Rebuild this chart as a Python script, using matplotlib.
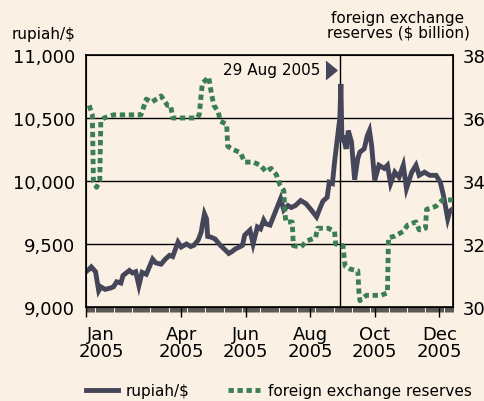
import numpy as np
import pandas as pd
import matplotlib
matplotlib.use('Agg')
import matplotlib.pyplot as plt
import matplotlib.dates as mdates
from matplotlib.lines import Line2D
from matplotlib.transforms import offset_copy

# rupiah per US$
rupiah_dates = ['2005-01-01', '2005-01-04', '2005-01-06', '2005-01-10', '2005-01-13', '2005-01-15',
                '2005-01-19', '2005-01-24', '2005-01-27', '2005-01-30', '2005-02-03', '2005-02-05',
                '2005-02-08', '2005-02-11', '2005-02-14', '2005-02-17', '2005-02-20', '2005-02-23',
                '2005-02-27', '2005-03-01', '2005-03-05', '2005-03-08', '2005-03-13', '2005-03-17',
                '2005-03-21', '2005-03-24', '2005-03-29', '2005-04-01', '2005-04-06', '2005-04-10',
                '2005-04-13', '2005-04-17', '2005-04-20', '2005-04-21', '2005-04-23', '2005-04-25',
                '2005-04-26', '2005-04-29', '2005-05-03', '2005-05-08', '2005-05-13', '2005-05-16',
                '2005-05-19', '2005-05-22', '2005-05-27', '2005-05-29', '2005-05-31', '2005-06-05',
                '2005-06-08', '2005-06-12', '2005-06-15', '2005-06-18', '2005-06-20', '2005-06-24',
                '2005-06-29', '2005-07-04', '2005-07-07', '2005-07-11', '2005-07-14', '2005-07-18',
                '2005-07-23', '2005-07-28', '2005-08-02', '2005-08-07', '2005-08-10', '2005-08-13',
                '2005-08-17', '2005-08-19', '2005-08-22', '2005-08-24', '2005-08-27', '2005-08-29',
                '2005-08-30', '2005-08-31', '2005-09-01', '2005-09-04', '2005-09-06', '2005-09-09',
                '2005-09-12', '2005-09-15', '2005-09-17', '2005-09-21', '2005-09-24', '2005-09-26',
                '2005-09-28', '2005-10-01', '2005-10-05', '2005-10-10', '2005-10-13', '2005-10-16',
                '2005-10-20', '2005-10-24', '2005-10-28', '2005-10-31', '2005-11-05', '2005-11-09',
                '2005-11-12', '2005-11-17', '2005-11-22', '2005-11-28', '2005-12-02', '2005-12-05',
                '2005-12-09', '2005-12-11', '2005-12-14']
rupiah = [9280, 9300, 9318, 9280, 9130, 9160,
          9140, 9150, 9160, 9200, 9190, 9250,
          9270, 9290, 9270, 9280, 9170, 9275,
          9260, 9300, 9380, 9350, 9340, 9380,
          9410, 9400, 9515, 9476, 9500, 9480,
          9490, 9530, 9595, 9650, 9740, 9700,
          9560, 9555, 9540, 9490, 9450, 9425,
          9440, 9460, 9480, 9490, 9570, 9610,
          9500, 9635, 9620, 9690, 9660, 9650,
          9755, 9860, 9770, 9805, 9790, 9805,
          9845, 9820, 9770, 9715, 9780, 9840,
          9870, 9990, 9980, 10150, 10360, 10500,
          10770, 10310, 10360, 10255, 10400, 10310,
          10010, 10180, 10230, 10255, 10360, 10400,
          10285, 10005, 10125, 10100, 10125, 9980,
          10070, 10030, 10125, 9940, 10070, 10125,
          10045, 10070, 10045, 10045, 9990, 9885,
          9700, 9760, 9780]

# foreign exchange reserves, $ billion
reserve_dates = ['2005-01-04', '2005-01-07', '2005-01-08', '2005-01-11', '2005-01-14', '2005-01-15',
                 '2005-01-18', '2005-01-27', '2005-02-22', '2005-02-27', '2005-03-04', '2005-03-13',
                 '2005-03-19', '2005-03-22', '2005-03-24', '2005-04-01', '2005-04-16', '2005-04-18',
                 '2005-04-21', '2005-04-27', '2005-04-30', '2005-05-02', '2005-05-06', '2005-05-08',
                 '2005-05-14', '2005-05-15', '2005-05-20', '2005-05-27', '2005-05-31', '2005-06-08',
                 '2005-06-15', '2005-06-20', '2005-06-25', '2005-06-30', '2005-07-03', '2005-07-07',
                 '2005-07-08', '2005-07-09', '2005-07-15', '2005-07-16', '2005-07-23', '2005-07-29',
                 '2005-08-06', '2005-08-08', '2005-08-18', '2005-08-24', '2005-08-25', '2005-09-01',
                 '2005-09-02', '2005-09-03', '2005-09-08', '2005-09-15', '2005-09-16', '2005-09-17',
                 '2005-09-23', '2005-09-30', '2005-10-07', '2005-10-13', '2005-10-14', '2005-10-20',
                 '2005-10-28', '2005-11-01', '2005-11-09', '2005-11-12', '2005-11-18', '2005-11-19',
                 '2005-11-28', '2005-12-04', '2005-12-14']
reserves = [36.4, 36.1, 34.0, 33.8, 34.0, 35.9,
            36.0, 36.1, 36.1, 36.6, 36.5, 36.7,
            36.4, 36.4, 36.0, 36.0, 36.0, 36.1,
            37.1, 37.3, 36.7, 36.4, 36.2, 35.9,
            35.8, 35.1, 35.0, 34.9, 34.6, 34.6,
            34.5, 34.3, 34.4, 34.2, 33.9, 33.7,
            33.0, 32.7, 32.7, 31.95, 31.9, 32.1,
            32.2, 32.5, 32.5, 32.4, 32.0, 31.95,
            31.6, 31.3, 31.2, 31.15, 30.5, 30.2,
            30.37, 30.37, 30.37, 30.45, 32.2, 32.25,
            32.4, 32.6, 32.7, 32.45, 32.5, 33.1,
            33.2, 33.4, 33.4]

tick_dates = ['2005-01-01', '2005-04-01', '2005-06-01', '2005-08-01', '2005-10-01', '2005-12-01']
tick_labels = ['Jan\n2005', 'Apr\n2005', 'Jun\n2005', 'Aug\n2005', 'Oct\n2005', 'Dec\n2005']
event_date = '2005-08-29'

bg = '#faf0e3'
dark = '#46465a'
green = '#3b7d55'

plt.rcParams['font.family'] = 'DejaVu Sans'

fig = plt.figure(figsize=(4.85, 4.02), dpi=100, facecolor=bg)
ax = fig.add_axes([86/485, 1-308/402, (453-86)/485, (308-56)/402])
ax.set_facecolor(bg)

ax.plot(pd.to_datetime(rupiah_dates), rupiah, color=dark, linewidth=3.5, solid_joinstyle='miter', zorder=3)

ax.set_ylim(9000, 11000)
ax.set_yticks([9000, 9500, 10000, 10500, 11000])
ax.set_yticklabels(['9,000', '9,500', '10,000', '10,500', '11,000'])
ax.tick_params(axis='y', length=0, pad=8, labelsize=13)
for v in [9500, 10000, 10500]:
    ax.axhline(v, color='black', linewidth=1.0, zorder=1)
ax.axvline(pd.Timestamp(event_date), color='black', linewidth=1.0, zorder=1)

ax.set_xlim(pd.Timestamp('2005-01-01'), pd.Timestamp('2005-12-14'))
ax.set_xticks(pd.to_datetime(tick_dates))
ax.set_xticklabels(tick_labels)
ax.xaxis.set_minor_locator(mdates.DayLocator())
ax.tick_params(axis='x', which='major', length=7, width=1, pad=6, labelsize=13, direction='out')
ax.tick_params(axis='x', which='minor', length=3.5, width=0.45, direction='out')
for lab in ax.get_xticklabels():
    lab.set_linespacing(0.95)
ax.get_xticklabels()[0].set_transform(ax.get_xticklabels()[0].get_transform() +
                                      matplotlib.transforms.ScaledTranslation(0.15, 0, fig.dpi_scale_trans))

for s in ax.spines.values():
    s.set_linewidth(1.2)

ax2 = ax.twinx()
ax2.plot(pd.to_datetime(reserve_dates), reserves, color=green, linewidth=3.5,
         linestyle=(0, (1.1, 0.75)), dash_capstyle='butt', zorder=4)
ax2.set_ylim(30, 38)
ax2.set_yticks([30, 32, 34, 36, 38])
ax2.tick_params(axis='y', length=0, pad=7, labelsize=13)

# event marker
ax.annotate('29 Aug 2005', xy=(pd.Timestamp(event_date), 1), xycoords=('data', 'axes fraction'),
            xytext=(-14, -10.5), textcoords='offset points', ha='right', va='center', fontsize=11)
trans = offset_copy(ax.get_xaxis_transform(), fig=fig, x=-8.8/100, y=-14.7/100, units='inches')
ax.plot([pd.Timestamp(event_date)], [1], transform=trans, clip_on=False,
        marker=[(-0.61, -1), (0.61, 0), (-0.61, 1)], markersize=13, color=dark, linestyle='none')

fig.text(12/485, 1-34/402, 'rupiah/$', fontsize=11, ha='left', va='center')
fig.text(398/485, 1-26/402, 'foreign exchange\nreserves ($ billion)', fontsize=11,
         ha='center', va='center', multialignment='center', linespacing=1.0)

handles = [Line2D([], [], color=dark, linewidth=3.5),
           Line2D([], [], color=green, linewidth=3.5, linestyle=(0, (1.1, 0.75)), dash_capstyle='butt')]
fig.legend(handles, ['rupiah/$', 'foreign exchange reserves'], loc='center',
           bbox_to_anchor=(279/485, 1-392/402), ncol=2, frameon=False, fontsize=11,
           handlelength=2.1, handletextpad=0.5, columnspacing=2.5)

fig.savefig('out.png', dpi=100, facecolor=bg)
